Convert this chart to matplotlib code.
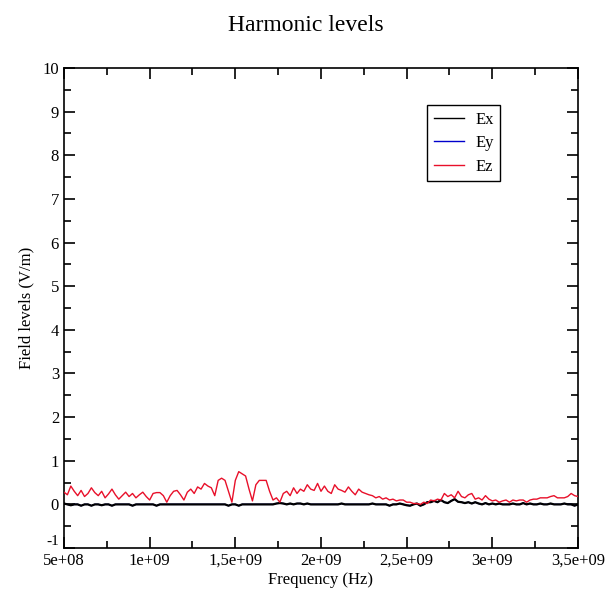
import numpy as np
import matplotlib
matplotlib.use('Agg')
import matplotlib.pyplot as plt
import matplotlib.transforms as mtransforms
from matplotlib.ticker import MultipleLocator, FixedLocator

plt.rcParams['font.family'] = ['Liberation Serif', 'DejaVu Serif']
plt.rcParams['axes.unicode_minus'] = False

# frequency grid 5e8 .. 3.5e9, step 2e7
freq = np.arange(151) * 2e7 + 5e8

ez = [0.28, 0.22, 0.42, 0.30, 0.20, 0.32, 0.18, 0.25, 0.38, 0.27,
      0.20, 0.30, 0.15, 0.24, 0.35, 0.22, 0.12, 0.20, 0.28, 0.18,
      0.25, 0.15, 0.22, 0.28, 0.18, 0.10, 0.25, 0.27, 0.27, 0.20,
      0.05, 0.20, 0.30, 0.32, 0.22, 0.10, 0.28, 0.35, 0.25, 0.40,
      0.35, 0.48, 0.42, 0.38, 0.20, 0.55,
      0.60, 0.55, 0.30, 0.05, 0.55, 0.75, 0.70, 0.65, 0.35, 0.08,
      0.45, 0.55, 0.55, 0.55, 0.30, 0.10, 0.15, 0.05, 0.25, 0.30,
      0.20, 0.38, 0.25, 0.35, 0.30, 0.45, 0.35, 0.32, 0.48, 0.30,
      0.42, 0.30, 0.25, 0.45, 0.35,
      0.32, 0.28, 0.40, 0.30, 0.22, 0.35, 0.28, 0.25, 0.22, 0.20,
      0.15, 0.18, 0.12, 0.15, 0.10, 0.12, 0.08, 0.10, 0.10, 0.05,
      0.05, 0.02, 0.02, 0.00, 0.05, 0.02, 0.10, 0.08, 0.12, 0.10,
      0.25, 0.18, 0.22, 0.15, 0.30,
      0.18, 0.15, 0.22, 0.25, 0.12, 0.15, 0.10, 0.20, 0.12, 0.08,
      0.10, 0.05, 0.08, 0.10, 0.05, 0.10, 0.08, 0.10, 0.10, 0.05,
      0.10, 0.12, 0.12, 0.15, 0.15, 0.15, 0.18, 0.20, 0.15, 0.15,
      0.15, 0.18, 0.25, 0.20, 0.18]

ex = [0.02, 0.0, -0.02, 0.0, 0.0, -0.03, 0.0, 0.0, -0.03, 0.0,
      0.0, -0.02, 0.0, 0.0, -0.03, 0.0, 0.0, 0.0, 0.0, 0.0,
      -0.03, 0.0, 0.0, 0.0, 0.0, 0.0, 0.0, -0.03, 0.0, 0.0,
      0.0, 0.0, 0.0, 0.0, 0.0, 0.0, 0.0, 0.0, 0.0, 0.0,
      0.0, 0.0, 0.0, 0.0, 0.0, 0.0, 0.0, 0.0, -0.03, 0.0,
      0.0, -0.03, 0.0, 0.0, 0.0, 0.0, 0.0, 0.0, 0.0, 0.0,
      0.0, 0.0, 0.02, 0.03, 0.02, 0.0, 0.02, 0.0, 0.02, 0.02,
      0.0, 0.02, 0.0, 0.0, 0.0, 0.0, 0.0, 0.0, 0.0, 0.0,
      0.0, 0.02, 0.0, 0.0, 0.0, 0.0, 0.0, 0.0, 0.0, 0.0,
      0.02, 0.0, 0.0, 0.0, 0.0, -0.03, 0.0, 0.0, 0.02, 0.0,
      -0.02, -0.03, 0.0, 0.02, -0.03, 0.0, 0.05, 0.05, 0.08, 0.05,
      0.10, 0.05, 0.03, 0.08, 0.12, 0.06, 0.05, 0.03, 0.05, 0.02,
      0.05, 0.02, 0.0, 0.03, 0.0, 0.02, 0.0, 0.02, 0.0, 0.0,
      0.0, 0.02, 0.0, 0.0, 0.03, 0.0, 0.02, 0.0, 0.0, 0.02,
      0.0, 0.0, 0.02, 0.0, 0.0, 0.0, 0.02, 0.0, 0.0, -0.03, 0.0]

# Ey is hidden under Ex in the reference
ey = list(ex)

xticks = [5e8, 1e9, 1.5e9, 2e9, 2.5e9, 3e9, 3.5e9]
xticklabels = ['5e+08', '1e+09', '1,5e+09', '2e+09', '2,5e+09', '3e+09', '3,5e+09']

fig = plt.figure(figsize=(6.11, 5.99), dpi=100)
ax = fig.add_axes([0.1047, 0.0851, 0.8413, 0.8014])

ax.plot(freq, ex, color='black', lw=1.6, label='Ex', zorder=3)
ax.plot(freq, ey, color='#0000cc', lw=1.0, label='Ey', zorder=2)
ax.plot(freq, ez, color='#e8102a', lw=1.0, label='Ez', zorder=4)

ax.set_xlim(5e8, 3.5e9)
ax.set_ylim(-1, 10)
ax.xaxis.set_major_locator(FixedLocator(xticks))
ax.set_xticklabels(xticklabels)
ax.xaxis.set_minor_locator(MultipleLocator(2.5e8))
ax.yaxis.set_major_locator(MultipleLocator(1))
ax.yaxis.set_minor_locator(MultipleLocator(0.5))
ax.tick_params(which='both', direction='in', top=True, right=True, labelsize=12, width=1.2)
ax.tick_params(which='major', length=8)
ax.tick_params(which='minor', length=5)
for s in ax.spines.values():
    s.set_linewidth(1.2)

ax.set_xlabel('Frequency (Hz)', fontsize=12, labelpad=2)
ax.set_ylabel('Field levels (V/m)', fontsize=12, labelpad=6)
fig.suptitle('Harmonic levels', fontsize=17, y=0.975)

leg = ax.legend(loc='upper left', bbox_to_anchor=(0.69, 0.94), fontsize=12,
                fancybox=False, edgecolor='black', framealpha=1,
                handlelength=1.8, borderpad=0.4, labelspacing=0.45,
                handletextpad=0.7)
leg.get_frame().set_linewidth(1.0)
for h in leg.get_lines():
    h.set_linewidth(1.0)

# the "-1" label sits a little higher than the x labels in the reference
fig.canvas.draw()
for t in ax.yaxis.get_major_ticks():
    if abs(t.get_loc() + 1) < 1e-9:
        lab = t.label1
        lab.set_fontsize(11)
        lab.set_transform(lab.get_transform() +
                          mtransforms.ScaledTranslation(0, 6 / 72, fig.dpi_scale_trans))

fig.savefig('out.png', dpi=100)
